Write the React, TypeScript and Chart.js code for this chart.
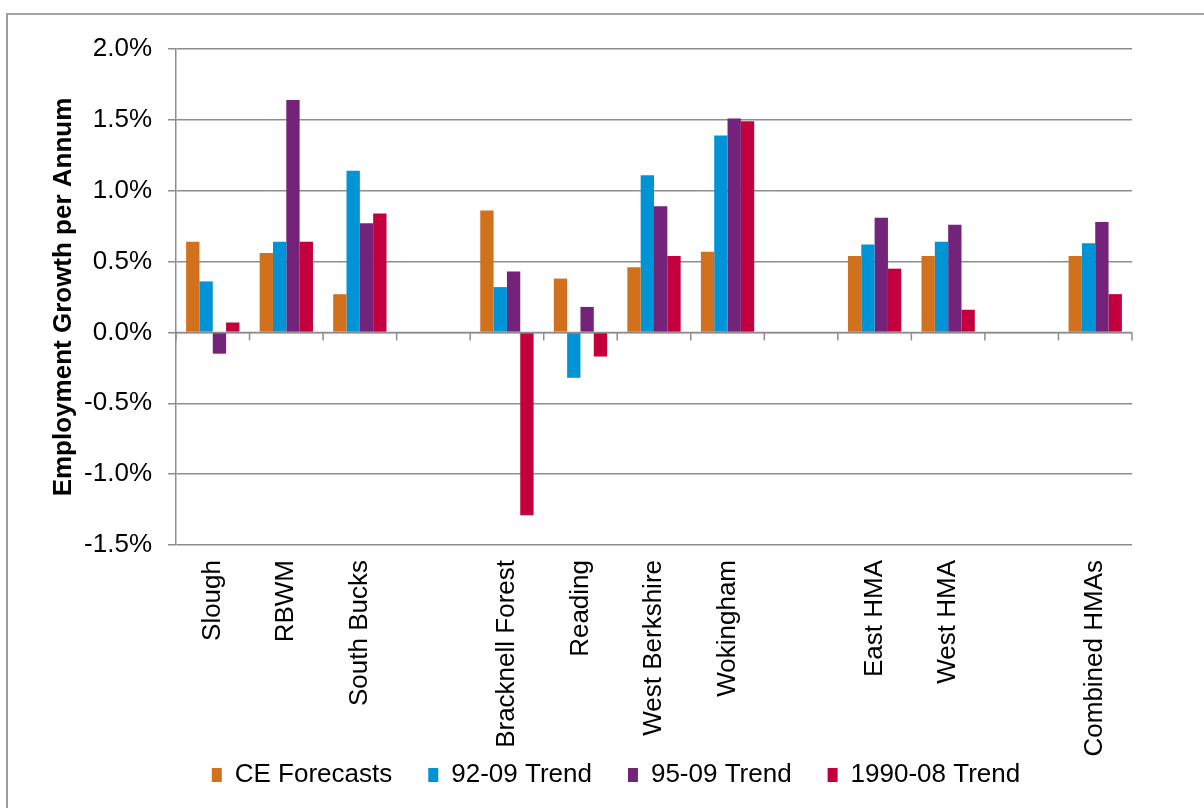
import React, { useEffect, useRef } from 'react';
import { Chart, registerables } from 'chart.js';

Chart.register(...registerables);

// ---- Data (percent per annum) ----
const categories = [
  'Slough', 'RBWM', 'South Bucks', '',
  'Bracknell Forest', 'Reading', 'West Berkshire', 'Wokingham', '',
  'East HMA', 'West HMA', '',
  'Combined HMAs',
];
const ceForecasts = [0.64, 0.56, 0.27, null, 0.86, 0.38, 0.46, 0.57, null, 0.54, 0.54, null, 0.54];
const trend9209 = [0.36, 0.64, 1.14, null, 0.32, -0.32, 1.11, 1.39, null, 0.62, 0.64, null, 0.63];
const trend9509 = [-0.15, 1.64, 0.77, null, 0.43, 0.18, 0.89, 1.51, null, 0.81, 0.76, null, 0.78];
const trend9008 = [0.07, 0.64, 0.84, null, -1.29, -0.17, 0.54, 1.49, null, 0.45, 0.16, null, 0.27];
const seriesNames = ['CE Forecasts', '92-09 Trend', '95-09 Trend', '1990-08 Trend'];
const yMin = -1.5;
const yMax = 2.0;
const yStep = 0.5;
const yTitle = 'Employment Growth per Annum';

const colors = ['#D1711D', '#0093D5', '#74237B', '#C3003D'];
const gridColor = '#8d8d8d';
const FONT = '"Liberation Sans", Arial, Helvetica, sans-serif';

const zeroTicks = {
  id: 'zeroTicks',
  afterDatasetsDraw(chart: any) {
    const xs = chart.scales.x;
    const ys = chart.scales.y;
    const y0 = ys.getPixelForValue(0);
    const n = categories.length;
    const ctx = chart.ctx;
    ctx.save();
    ctx.strokeStyle = gridColor;
    ctx.lineWidth = 1.5;
    ctx.beginPath();
    ctx.moveTo(xs.left, y0);
    ctx.lineTo(xs.right, y0);
    ctx.stroke();
    for (let i = 0; i <= n; i++) {
      const px = xs.left + (xs.width * i) / n;
      ctx.beginPath();
      ctx.moveTo(px, y0);
      ctx.lineTo(px, y0 + 8);
      ctx.stroke();
    }
    ctx.restore();
  },
};

const legendPlace = {
  id: 'legendPlace',
  afterLayout(chart: any) {
    const xs = chart.scales.x;
    if (xs) xs.bottom = chart.height; // don't clip long rotated labels
    const lg = chart.legend;
    if (!lg) return;
    const dx = 616 - (lg.left + lg.right) / 2;
    const pad = lg.options.labels.padding;
    const fs = lg.options.labels.font.size;
    const dy = 775 - (lg.top + pad + fs / 2);
    lg.left += dx;
    lg.right += dx;
    lg.top += dy;
    lg.bottom += dy;
  },
};

export default function App() {
  const ref = useRef<HTMLCanvasElement>(null);

  useEffect(() => {
    const series = [ceForecasts, trend9209, trend9509, trend9008];
    const chart = new Chart(ref.current!, {
      type: 'bar',
      data: {
        labels: categories,
        datasets: series.map((d, i) => ({
          label: seriesNames[i],
          data: d,
          backgroundColor: colors[i],
          borderWidth: 0,
          categoryPercentage: 0.725,
          barPercentage: 1.0,
        })),
      },
      options: {
        animation: false,
        responsive: true,
        maintainAspectRatio: false,
        layout: { padding: { top: 49, right: 72, left: 0, bottom: 0 } },
        plugins: {
          tooltip: { enabled: false },
          legend: {
            position: 'bottom',
            labels: {
              boxWidth: 10,
              boxHeight: 14,
              padding: 36,
              color: '#000',
              font: { family: FONT, size: 26 },
            },
          },
        },
        scales: {
          x: {
            grid: { display: false, drawTicks: false },
            border: { display: false },
            ticks: {
              autoSkip: false,
              minRotation: 90,
              maxRotation: 90,
              padding: 15,
              color: '#000',
              font: { family: FONT, size: 26 },
            },
            afterFit(s: any) {
              const lh = s.chart.legend ? s.chart.legend.height : 100;
              s.height = s.chart.height - 545 - lh;
            },
          },
          y: {
            min: yMin,
            max: yMax,
            ticks: {
              stepSize: yStep,
              padding: 16,
              color: '#000',
              font: { family: FONT, size: 26 },
              callback: (v: any) => Number(v).toFixed(1) + '%',
            },
            grid: {
              color: gridColor,
              lineWidth: 1.5,
              drawTicks: true,
              tickLength: 8,
            },
            border: { display: true, color: gridColor, width: 1.5 },
            title: {
              display: true,
              text: yTitle,
              color: '#000',
              font: { family: FONT, size: 26, weight: 'bold' },
              padding: { top: 48, bottom: 0 },
            },
            afterFit(s: any) {
              s.width = 176;
            },
          },
        },
      },
      plugins: [zeroTicks, legendPlace],
    } as any);
    return () => chart.destroy();
  }, []);

  return (
    <div style={{ position: 'absolute', left: 0, top: 0, width: 1204, height: 808, background: '#fff', overflow: 'hidden' }}>
      <div
        style={{
          position: 'absolute',
          left: 6,
          top: 13,
          width: 1400,
          height: 1000,
          borderLeft: '2px solid #9b9b9b',
          borderTop: '2px solid #a3a3a3',
        }}
      />
      <div style={{ position: 'absolute', left: 0, top: 0, width: 1204, height: 808 }}>
        <canvas ref={ref} />
      </div>
    </div>
  );
}
